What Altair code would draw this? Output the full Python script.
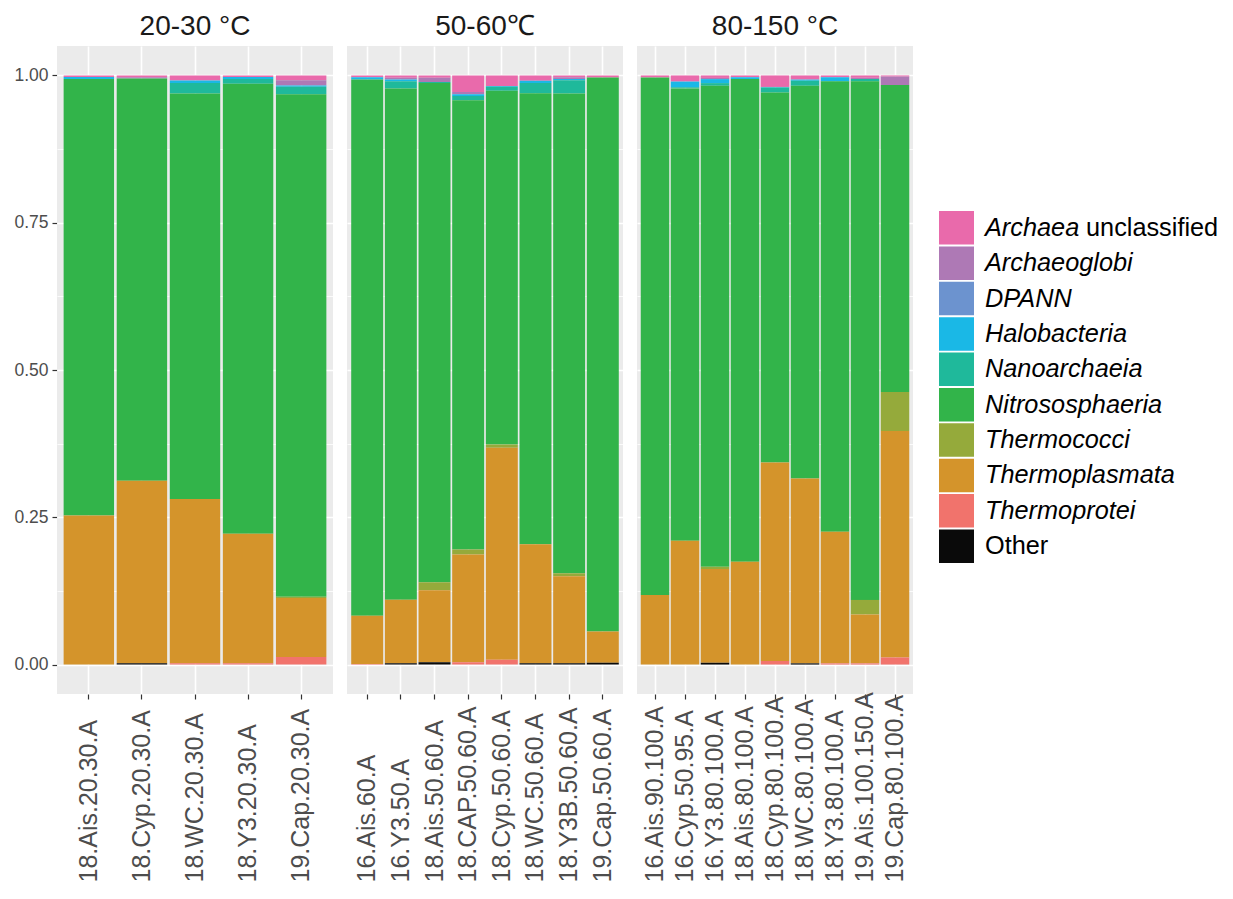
import altair as alt
import pandas as pd

# ---------------- data ----------------
groups = ["20-30 °C", "50-60℃", "80-150 °C"]
samples_g1 = ["18.Ais.20.30.A", "18.Cyp.20.30.A", "18.WC.20.30.A", "18.Y3.20.30.A", "19.Cap.20.30.A"]
samples_g2 = ["16.Ais.60.A", "16.Y3.50.A", "18.Ais.50.60.A", "18.CAP.50.60.A", "18.Cyp.50.60.A",
              "18.WC.50.60.A", "18.Y3B.50.60.A", "19.Cap.50.60.A"]
samples_g3 = ["16.Ais.90.100.A", "16.Cyp.50.95.A", "16.Y3.80.100.A", "18.Ais.80.100.A", "18.Cyp.80.100.A",
              "18.WC.80.100.A", "18.Y3.80.100.A", "19.Ais.100.150.A", "19.Cap.80.100.A"]

taxa = ["Archaea unclassified", "Archaeoglobi", "DPANN", "Halobacteria", "Nanoarchaeia",
        "Nitrososphaeria", "Thermococci", "Thermoplasmata", "Thermoprotei", "Other"]
colors = ["#E96AAB", "#AE79B5", "#6C93CF", "#1AB8E6", "#1FB99B",
          "#32B44A", "#95AA3B", "#D4942B", "#F1736C", "#0A0A0A"]

archaea_unclassified = [0.0025, 0.003, 0.0085, 0.0025, 0.008,
                        0.003, 0.004, 0.004, 0.028, 0.018, 0.009, 0.003, 0.0034,
                        0.0034, 0.0104, 0.0042, 0.003, 0.0195, 0.007, 0.003, 0.004, 0.002]
archaeoglobi = [0, 0.002, 0, 0, 0.009,
                0, 0.003, 0.007, 0.004, 0, 0, 0.003, 0,
                0, 0, 0.002, 0, 0, 0, 0, 0.002, 0.0144]
dpann = [0, 0, 0, 0, 0,
         0, 0, 0, 0, 0, 0, 0, 0,
         0, 0, 0, 0, 0, 0, 0, 0, 0]
halobacteria = [0.0035, 0, 0.0045, 0.0035, 0.002,
                0.004, 0.003, 0, 0.003, 0.001, 0.004, 0.002, 0,
                0, 0.0096, 0.0068, 0.003, 0.001, 0.002, 0.007, 0, 0]
nanoarchaeia = [0, 0, 0.0175, 0.008, 0.013,
                0, 0.012, 0.002, 0.007, 0.007, 0.017, 0.0225, 0,
                0, 0.002, 0.0045, 0, 0.0085, 0.0085, 0, 0.004, 0]
nitrososphaeria = [0.741, 0.683, 0.6885, 0.764, 0.853,
                   0.910, 0.868, 0.8475, 0.7625, 0.6005, 0.766, 0.8145, 0.9406,
                   0.8786, 0.768, 0.8165, 0.8194, 0.628, 0.6665, 0.7646, 0.8803, 0.5209]
thermococci = [0, 0, 0, 0, 0.002,
               0, 0, 0.0135, 0.0085, 0.0055, 0, 0.005, 0,
               0, 0, 0.004, 0, 0, 0, 0, 0.0247, 0.0661]
thermoplasmata = [0.253, 0.310, 0.279, 0.220, 0.100,
                  0.082, 0.108, 0.122, 0.183, 0.360, 0.202, 0.148, 0.053,
                  0.118, 0.210, 0.159, 0.1746, 0.337, 0.314, 0.2234, 0.083, 0.3846]
thermoprotei = [0, 0, 0.002, 0.002, 0.013,
                0.001, 0, 0, 0.004, 0.008, 0, 0, 0,
                0, 0, 0, 0, 0.006, 0, 0.002, 0.002, 0.012]
other = [0, 0.002, 0, 0, 0,
         0, 0.002, 0.004, 0, 0, 0.002, 0.002, 0.003,
         0, 0, 0.003, 0, 0, 0.002, 0, 0, 0]

series = [archaea_unclassified, archaeoglobi, dpann, halobacteria, nanoarchaeia,
          nitrososphaeria, thermococci, thermoplasmata, thermoprotei, other]

# legend label pieces (italic part / plain part)
legend_italic = ["Archaea", "Archaeoglobi", "DPANN", "Halobacteria", "Nanoarchaeia",
                 "Nitrososphaeria", "Thermococci", "Thermoplasmata", "Thermoprotei", ""]
legend_plain = ["unclassified", "", "", "", "", "", "", "", "", "Other"]

# ---------------- build table ----------------
samples = samples_g1 + samples_g2 + samples_g3
sample_group = [groups[0]] * len(samples_g1) + [groups[1]] * len(samples_g2) + [groups[2]] * len(samples_g3)
rows = []
for i, s in enumerate(samples):
    for k, t in enumerate(taxa):
        rows.append({"sample": s, "group": sample_group[i], "taxon": t,
                     "value": series[k][i], "rank": len(taxa) - 1 - k})
df = pd.DataFrame(rows)

FONT = "Liberation Sans"
PANEL_BG = "#EBEBEB"
PAD = "\u200b" + "\u00a0" * 5   # zero-width start keeps the spaces from being trimmed
color_scale = alt.Scale(domain=taxa, range=colors)

minor_test = "abs(datum.value*4 - round(datum.value*4)) > 0.01"

bars = alt.Chart(df).mark_bar().encode(
    x=alt.X("sample:N", sort=samples, title=None,
            scale=alt.Scale(paddingInner=0.05, paddingOuter=0.125),
            axis=alt.Axis(labelAngle=-90, labelAlign="left", labelBaseline="middle",
                          labelPadding=183, labelFontSize=25, labelColor="#4D4D4D",
                          labelFont=FONT, labelLimit=500, tickColor="#333333", tickSize=5,
                          tickWidth=1.2, domain=False, grid=True, gridColor="white",
                          gridWidth=1.6, labelOverlap=False)),
    y=alt.Y("value:Q", stack="zero", title=None,
            scale=alt.Scale(domain=[-0.05, 1.05], nice=False, zero=False),
            axis=alt.Axis(values=[0, 0.125, 0.25, 0.375, 0.5, 0.625, 0.75, 0.875, 1.0],
                          labelExpr="abs(datum.value*4 - round(datum.value*4)) > 0.01 ? '' : format(datum.value, '.2f')",
                          labelFontSize=17.5, labelColor="#4D4D4D", labelFont=FONT,
                          labelPadding=4, tickSize=5, tickWidth=1.2, tickColor="#333333",
                          tickOpacity={"condition": {"test": minor_test, "value": 0}, "value": 1},
                          domain=False, grid=True, gridColor="white",
                          gridWidth={"condition": {"test": minor_test, "value": 0.8}, "value": 1.6},
                          labelOverlap=False)),
    color=alt.Color("taxon:N", scale=color_scale, legend=None),
    order=alt.Order("rank:Q", sort="ascending"),
).properties(width=276, height=648)

# first strip title sits a little right of centre in the reference
header_expr = "indexof(datum.label, '20-30') >= 0 ? '" + PAD + "' + datum.label : datum.label"

faceted = bars.facet(
    column=alt.Column("group:N", sort=groups, title=None,
                      header=alt.Header(labelFontSize=28, labelColor="#1A1A1A", labelFont=FONT,
                                        labelPadding=5, labelExpr=header_expr)),
    spacing=14,
).resolve_scale(x="independent")

# ---------------- custom legend ----------------
leg_df = pd.DataFrame({"taxon": taxa, "ital": legend_italic, "plain": legend_plain})
ly = alt.Y("taxon:N", sort=taxa, axis=None,
           scale=alt.Scale(domain=taxa, range=[165, 517], paddingInner=0.05, paddingOuter=0))

swatch = alt.Chart(leg_df).mark_rect().encode(
    y=ly, x=alt.value(0), x2=alt.value(35),
    color=alt.Color("taxon:N", scale=color_scale, legend=None),
)
txt_italic = alt.Chart(leg_df).mark_text(
    align="left", baseline="middle", fontSize=25.3, fontStyle="italic", font=FONT, color="black"
).encode(y=ly, x=alt.value(46), text="ital:N")
txt_other = alt.Chart(leg_df).mark_text(
    align="left", baseline="middle", fontSize=25.3, font=FONT, color="black"
).encode(y=ly, x=alt.value(46), text="plain:N").transform_filter("datum.ital == ''")
txt_uncl = alt.Chart(leg_df).mark_text(
    align="left", baseline="middle", fontSize=25.3, font=FONT, color="black"
).encode(y=ly, x=alt.value(147), text="plain:N").transform_filter("datum.ital != '' && datum.plain != ''")

legend_chart = alt.layer(swatch, txt_italic, txt_other, txt_uncl).properties(
    width=270, height=549, view=alt.ViewBackground(fill="white", stroke="transparent", strokeWidth=0)
)

chart = alt.hconcat(faceted, legend_chart, spacing=26).properties(
    padding={"left": 5, "top": 5, "right": 2, "bottom": 5}
).configure_view(
    fill=PANEL_BG, stroke="transparent", strokeWidth=0
).configure(
    font=FONT,
    style={"cell": {"fill": PANEL_BG, "stroke": "transparent", "strokeWidth": 0}},
)

chart.save("out.html", embed_options={"renderer": "svg", "actions": False})
